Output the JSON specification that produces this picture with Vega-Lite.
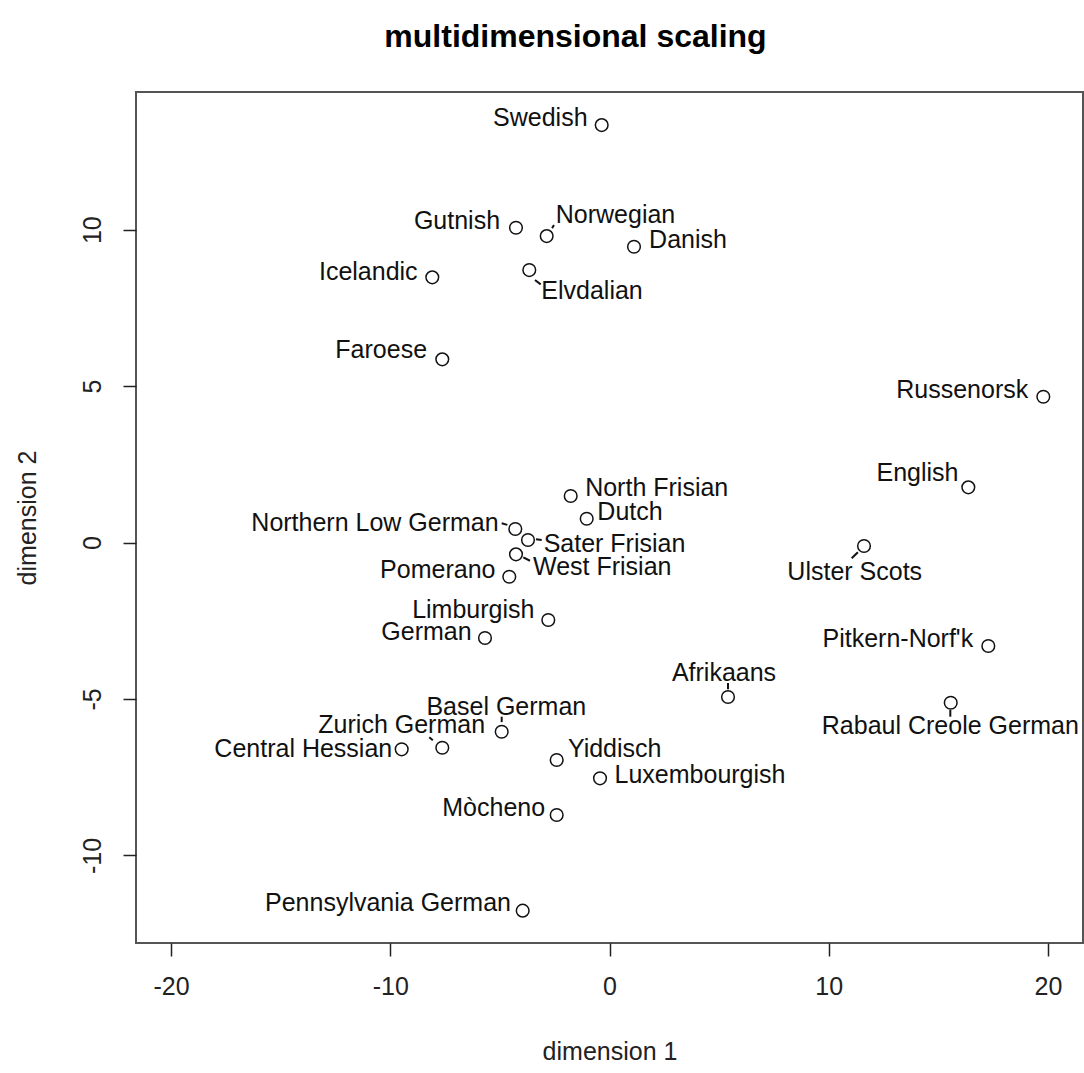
{
  "$schema": "https://vega.github.io/schema/vega-lite/v6.json",
  "width": 947,
  "height": 851,
  "autosize": {"type": "none"},
  "padding": {"left": 136, "top": 92, "right": 1, "bottom": 130},
  "background": "white",
  "title": {"text": "multidimensional scaling", "font": "Liberation Sans", "fontSize": 32, "fontWeight": "bold", "color": "#000", "anchor": "middle", "dx": -34, "offset": 38},
  "config": {
    "view": {"stroke": "#555", "strokeWidth": 2},
    "axis": {"domain": false, "grid": false, "ticks": true, "tickColor": "#222", "tickWidth": 1.5, "tickSize": 13, "labelFont": "Liberation Sans", "labelFontSize": 25, "labelColor": "#222", "labelPadding": 18, "titleFont": "Liberation Sans", "titleFontSize": 25, "titleFontWeight": "normal", "titleColor": "#222", "labelFlush": false, "labelOverlap": false, "titlePadding": 40}
  },
  "datasets": {
    "langs": [
      {"name": "Swedish", "x": -0.356, "y": 13.343, "lx": -3.157, "ly": 13.573},
      {"name": "Gutnish", "x": -4.266, "y": 10.061, "lx": -6.957, "ly": 10.284},
      {"name": "Norwegian", "x": -2.865, "y": 9.795, "lx": 0.274, "ly": 10.46},
      {"name": "Danish", "x": 1.118, "y": 9.454, "lx": 3.581, "ly": 9.674},
      {"name": "Icelandic", "x": -8.084, "y": 8.476, "lx": -11.004, "ly": 8.661},
      {"name": "Elvdalian", "x": -3.659, "y": 8.709, "lx": -0.798, "ly": 8.031},
      {"name": "Faroese", "x": -7.628, "y": 5.855, "lx": -10.415, "ly": 6.159},
      {"name": "Russenorsk", "x": 19.79, "y": 4.66, "lx": 16.09, "ly": 4.88},
      {"name": "English", "x": 16.369, "y": 1.764, "lx": 14.051, "ly": 2.228},
      {"name": "North Frisian", "x": -1.77, "y": 1.486, "lx": 2.153, "ly": 1.735},
      {"name": "Dutch", "x": -1.04, "y": 0.761, "lx": 0.935, "ly": 0.991},
      {"name": "Northern Low German", "x": -4.297, "y": 0.431, "lx": -10.698, "ly": 0.639},
      {"name": "Sater Frisian", "x": -3.718, "y": 0.08, "lx": 0.228, "ly": -0.042},
      {"name": "West Frisian", "x": -4.266, "y": -0.377, "lx": -0.333, "ly": -0.767},
      {"name": "Pomerano", "x": -4.571, "y": -1.093, "lx": -7.833, "ly": -0.885},
      {"name": "Limburgish", "x": -2.792, "y": -2.477, "lx": -6.214, "ly": -2.151},
      {"name": "German", "x": -5.68, "y": -3.052, "lx": -8.348, "ly": -2.844},
      {"name": "Ulster Scots", "x": 11.61, "y": -0.112, "lx": 11.186, "ly": -0.927},
      {"name": "Pitkern-Norf'k", "x": 17.281, "y": -3.308, "lx": 13.152, "ly": -3.074},
      {"name": "Afrikaans", "x": 5.406, "y": -4.938, "lx": 5.224, "ly": -4.155},
      {"name": "Rabaul Creole German", "x": 15.566, "y": -5.12, "lx": 15.547, "ly": -5.88},
      {"name": "Basel German", "x": -4.918, "y": -6.047, "lx": -4.708, "ly": -5.241},
      {"name": "Zurich German", "x": -7.628, "y": -6.558, "lx": -9.48, "ly": -5.842},
      {"name": "Central Hessian", "x": -9.48, "y": -6.609, "lx": -13.969, "ly": -6.59},
      {"name": "Yiddisch", "x": -2.409, "y": -6.951, "lx": 0.237, "ly": -6.59},
      {"name": "Luxembourgish", "x": -0.433, "y": -7.536, "lx": 4.129, "ly": -7.424},
      {"name": "Mòcheno", "x": -2.409, "y": -8.709, "lx": -5.283, "ly": -8.495},
      {"name": "Pennsylvania German", "x": -3.96, "y": -11.767, "lx": -10.105, "ly": -11.537}
    ],
    "leaders": [
      {"name": "Norwegian", "x1": -2.62, "y1": 10.05, "x2": -2.532, "y2": 10.147},
      {"name": "Elvdalian", "x1": -3.399, "y1": 8.389, "x2": -3.139, "y2": 8.252},
      {"name": "Northern Low German", "x1": -4.918, "y1": 0.614, "x2": -4.66, "y2": 0.565},
      {"name": "Sater Frisian", "x1": -3.353, "y1": 0.102, "x2": -3.093, "y2": 0.08},
      {"name": "West Frisian", "x1": -3.932, "y1": -0.473, "x2": -3.627, "y2": -0.582},
      {"name": "Ulster Scots", "x1": 11.33, "y1": -0.31, "x2": 11.049, "y2": -0.505},
      {"name": "Rabaul Creole German", "x1": 15.547, "y1": -5.35, "x2": 15.547, "y2": -5.567},
      {"name": "Afrikaans", "x1": 5.406, "y1": -4.49, "x2": 5.406, "y2": -4.69},
      {"name": "Basel German", "x1": -4.918, "y1": -5.567, "x2": -4.918, "y2": -5.74},
      {"name": "Zurich German", "x1": -8.221, "y1": -6.226, "x2": -8.06, "y2": -6.32}
    ]
  },
  "layer": [
    {
      "data": {"name": "leaders"},
      "mark": {"type": "rule", "color": "#111", "strokeWidth": 2},
      "encoding": {
        "x": {"field": "x1", "type": "quantitative", "title": "dimension 1", "scale": {"domain": [-21.6, 21.6], "nice": false, "zero": false}, "axis": {"values": [-20, -10, 0, 10, 20], "labelExpr": "'' + datum.value"}},
        "y": {"field": "y1", "type": "quantitative", "title": "dimension 2", "scale": {"domain": [-12.8, 14.4], "nice": false, "zero": false}, "axis": {"values": [-10, -5, 0, 5, 10], "labelExpr": "'' + datum.value", "labelAngle": -90, "labelAlign": "center", "labelBaseline": "bottom"}},
        "x2": {"field": "x2"},
        "y2": {"field": "y2"}
      }
    },
    {
      "data": {"name": "langs"},
      "mark": {"type": "point", "shape": "circle", "filled": false, "color": "#111", "strokeWidth": 1.5, "size": 160, "opacity": 1},
      "encoding": {
        "x": {"field": "x", "type": "quantitative", "title": "dimension 1", "scale": {"domain": [-21.6, 21.6], "nice": false, "zero": false}, "axis": {"values": [-20, -10, 0, 10, 20], "labelExpr": "'' + datum.value"}},
        "y": {"field": "y", "type": "quantitative", "title": "dimension 2", "scale": {"domain": [-12.8, 14.4], "nice": false, "zero": false}, "axis": {"values": [-10, -5, 0, 5, 10], "labelExpr": "'' + datum.value", "labelAngle": -90, "labelAlign": "center", "labelBaseline": "bottom"}}
      }
    },
    {
      "data": {"name": "langs"},
      "mark": {"type": "text", "align": "center", "baseline": "middle", "font": "Liberation Sans", "fontSize": 25, "color": "#111"},
      "encoding": {
        "x": {"field": "lx", "type": "quantitative", "title": "dimension 1", "scale": {"domain": [-21.6, 21.6], "nice": false, "zero": false}, "axis": {"values": [-20, -10, 0, 10, 20], "labelExpr": "'' + datum.value"}},
        "y": {"field": "ly", "type": "quantitative", "title": "dimension 2", "scale": {"domain": [-12.8, 14.4], "nice": false, "zero": false}, "axis": {"values": [-10, -5, 0, 5, 10], "labelExpr": "'' + datum.value", "labelAngle": -90, "labelAlign": "center", "labelBaseline": "bottom"}},
        "text": {"field": "name", "type": "nominal"}
      }
    }
  ]
}
